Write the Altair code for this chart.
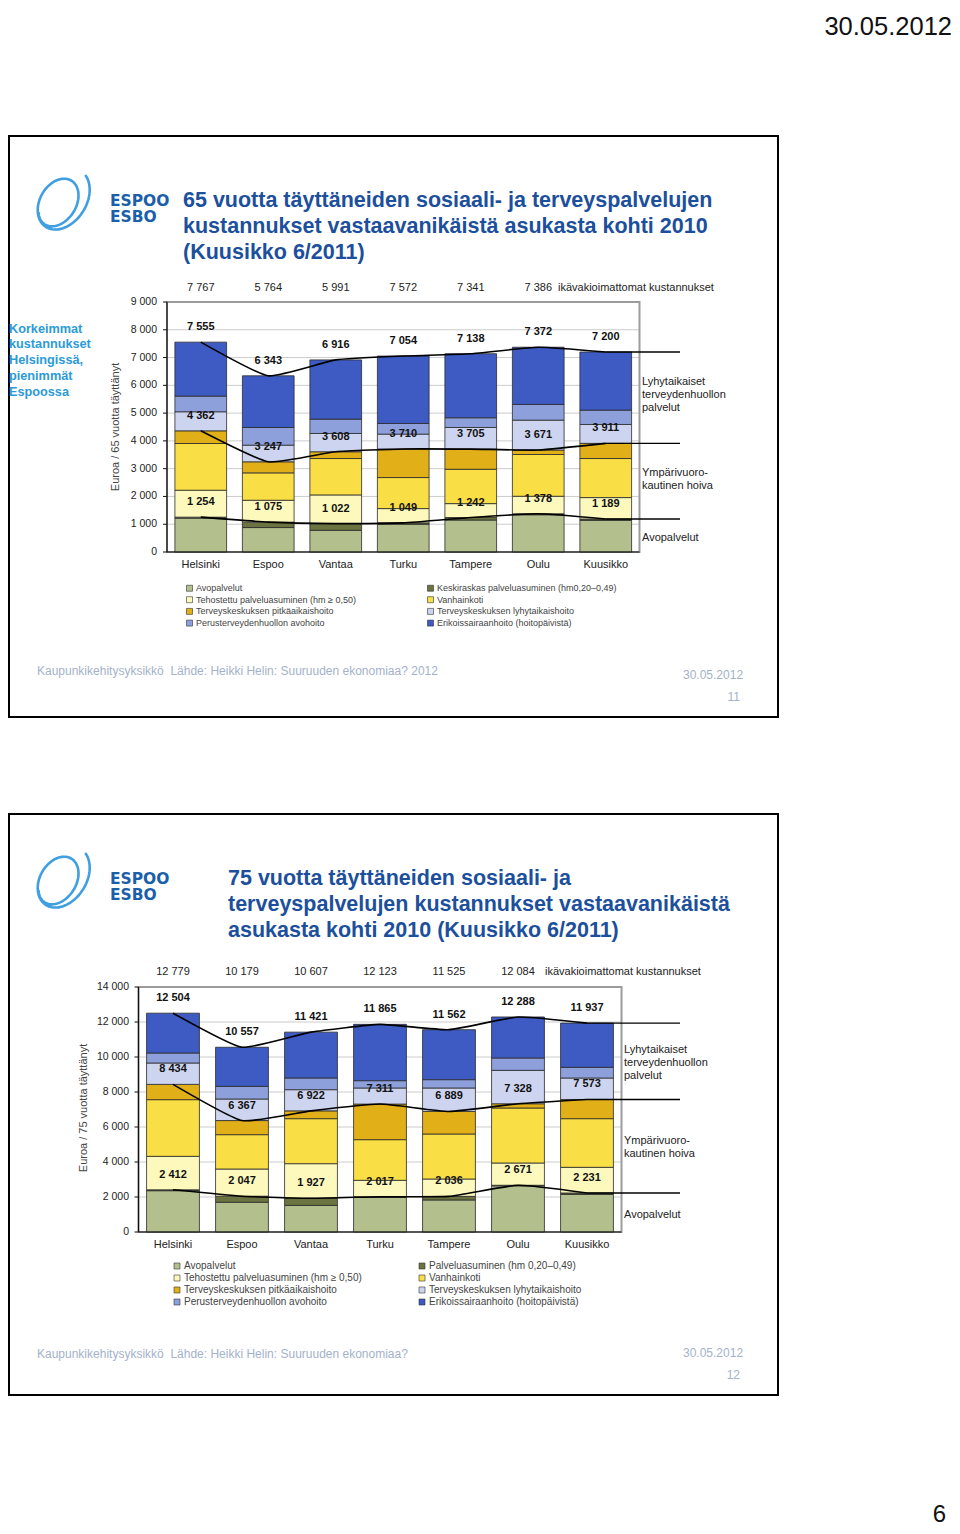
import math
import altair as alt
import pandas as pd

FONT = "Liberation Sans, Arial, Helvetica, sans-serif"
LOGO_FONT = "DejaVu Sans, Liberation Sans, sans-serif"

# ---------------- data ----------------
cities = ["Helsinki", "Espoo", "Vantaa", "Turku", "Tampere", "Oulu", "Kuusikko"]

segment_colors = ["#b3bf8c", "#6b7440", "#fdf9bd", "#f9de46",
                  "#e1af18", "#cdd4f0", "#8ea0dc", "#3d5bc2"]

legend65 = ["Avopalvelut",
            "Keskiraskas palveluasuminen (hm0,20–0,49)",
            "Tehostettu palveluasuminen (hm ≥ 0,50)",
            "Vanhainkoti",
            "Terveyskeskuksen pitkäaikaishoito",
            "Terveyskeskuksen lyhytaikaishoito",
            "Perusterveydenhuollon avohoito",
            "Erikoissairaanhoito (hoitopäivistä)"]
legend75 = ["Avopalvelut",
            "Palveluasuminen (hm 0,20–0,49)",
            "Tehostettu palveluasuminen (hm ≥ 0,50)",
            "Vanhainkoti",
            "Terveyskeskuksen pitkäaikaishoito",
            "Terveyskeskuksen lyhytaikaishoito",
            "Perusterveydenhuollon avohoito",
            "Erikoissairaanhoito (hoitopäivistä)"]
# order in which the legend lists the segments (two columns, filled column by column)
legend_order = [0, 2, 4, 6, 1, 3, 5, 7]

# 65+ (euro per resident)
avo65 = [1220, 880, 780, 1000, 1150, 1340, 1140]
kesk65 = [34, 195, 242, 49, 92, 38, 49]
teh65 = [970, 788, 1033, 514, 500, 629, 770]
vanh65 = [1682, 986, 1310, 1117, 1237, 1503, 1406]
pitk65 = [456, 398, 243, 1030, 726, 161, 546]
lyhyt65 = [686, 599, 659, 533, 778, 1077, 680]
perus65 = [565, 637, 517, 384, 349, 564, 517]
erik65 = [1942, 1860, 2132, 2427, 2306, 2060, 2092]
open65 = [1254, 1075, 1022, 1049, 1242, 1378, 1189]
care65 = [4362, 3247, 3608, 3710, 3705, 3671, 3911]
total65 = [7555, 6343, 6916, 7054, 7138, 7372, 7200]
unadj65 = [7767, 5764, 5991, 7572, 7341, 7386]
ticks65 = [0, 1000, 2000, 3000, 4000, 5000, 6000, 7000, 8000, 9000]

# 75+
avo75 = [2360, 1700, 1520, 1980, 1830, 2640, 2150]
kesk75 = [52, 347, 407, 37, 206, 31, 81]
teh75 = [1912, 1553, 1978, 935, 992, 1272, 1464]
vanh75 = [3238, 1962, 2571, 2324, 2572, 3143, 2781]
pitk75 = [872, 805, 446, 2035, 1289, 242, 1097]
lyhyt75 = [1223, 1233, 1211, 918, 1340, 1910, 1227]
perus75 = [572, 724, 667, 419, 476, 705, 610]
erik75 = [2275, 2233, 2621, 3217, 2857, 2345, 2527]
open75 = [2412, 2047, 1927, 2017, 2036, 2671, 2231]
care75 = [8434, 6367, 6922, 7311, 6889, 7328, 7573]
total75 = [12504, 10557, 11421, 11865, 11562, 12288, 11937]
unadj75 = [12779, 10179, 10607, 12123, 11525, 12084]
ticks75 = [0, 2000, 4000, 6000, 8000, 10000, 12000, 14000]

# ---------------- helpers ----------------
one = pd.DataFrame({"d": [0]})


def X(v):
    return v - 8


def Y(v):
    return v - 8


def fmt(v):
    return f"{v:,}".replace(",", " ")


def text_at(x, y, text, **kw):
    kw.setdefault("font", FONT)
    return alt.Chart(one).mark_text(**kw).encode(
        x=alt.value(X(x)), y=alt.value(Y(y)), text=alt.value(text))


def logo_path():
    # a swirling double loop, drawn as an SVG symbol in the [-1, 1] box
    ang = math.radians(-58)
    ux, uy = math.cos(ang), math.sin(ang)
    vx, vy = -math.sin(ang), math.cos(ang)
    pts = []
    n = 110
    turns = 1.6
    for i in range(n + 1):
        t = 0.2 + i / n * 2 * math.pi * turns
        f = 1.0 - 0.36 * (i / n)
        a = 1.0 * f
        b = 0.72 * f
        cx = -0.25 * (i / n)
        cy = 0.18 * (i / n)
        px = cx + a * math.cos(t) * ux + b * math.sin(t) * vx
        py = cy + a * math.cos(t) * uy + b * math.sin(t) * vy
        pts.append((px, py))
    return "M" + " L".join(f"{p[0]:.3f},{p[1]:.3f}" for p in pts)


LOGO = logo_path()


def slide_decor(top, bottom, logo_y, title_x, title_lines, footer, page_no, footer_y, date_y, pno_y):
    layers = []
    layers.append(alt.Chart(one).mark_rect(fill="white", stroke="black", strokeWidth=2).encode(
        x=alt.value(1), x2=alt.value(X(778)), y=alt.value(Y(top)), y2=alt.value(Y(bottom))))
    layers.append(alt.Chart(one).mark_point(shape=LOGO, size=4400, filled=False,
                                            stroke="#3f9fe0", strokeWidth=2.6, opacity=1).encode(
        x=alt.value(X(64)), y=alt.value(Y(logo_y))))
    layers.append(text_at(110, logo_y + 0.5, ["ESPOO", "ESBO"], font=LOGO_FONT, fontSize=15.5,
                          fontWeight="bold", color="#1b5faa", align="left", lineHeight=16))
    layers.append(text_at(title_x, logo_y + 1, title_lines, fontSize=21.5, fontWeight="bold",
                          color="#1c4f9c", align="left", lineHeight=26))
    layers.append(text_at(37, footer_y + 1, footer, fontSize=12, color="#a3b2c9", align="left"))
    layers.append(text_at(683, date_y, "30.05.2012", fontSize=12, color="#a3b2c9", align="left"))
    layers.append(text_at(740, pno_y + 1, page_no, fontSize=12, color="#a3b2c9", align="right"))
    return layers


def make_slide(segs, labels, low, mid, tot, unadj, ticks, ymax, plot, top_lab_y, xlab_y,
               unadj_x, ylab_x, ytitle, ytitle_xy, right_x, right_ys, ext_x, legend_xy,
               legend_fs, legend_rp, legend_cp):
    x0, x1, y0, y1 = plot
    xs = alt.Scale(type="band", domain=cities, range=[X(x0), X(x1)],
                   paddingInner=0.234, paddingOuter=0.117)
    ys = alt.Scale(type="linear", domain=[0, ymax], range=[Y(y0), Y(y1)], nice=False, zero=False)
    xc = alt.X("city:N", scale=xs, axis=None, bandPosition=0.5)
    layers = []

    tick_df = pd.DataFrame({"t": ticks, "lab": [fmt(t) for t in ticks]})
    grid_df = tick_df[tick_df["t"] > 0]
    layers.append(alt.Chart(grid_df).mark_rule(color="#cccccc", strokeWidth=1).encode(
        y=alt.Y("t:Q", scale=ys, axis=None), x=alt.value(X(x0)), x2=alt.value(X(x1))))
    frame_df = pd.DataFrame({"a": [0], "b": [ymax]})
    layers.append(alt.Chart(frame_df).mark_rect(fillOpacity=0, stroke="#9c9c9c", strokeWidth=2).encode(
        y=alt.Y("a:Q", scale=ys, axis=None), y2=alt.Y2("b:Q"),
        x=alt.value(X(x0)), x2=alt.value(X(x1))))

    rows = []
    for i, (lab, arr) in enumerate(zip(labels, segs)):
        for c, v in zip(cities, arr):
            rows.append({"city": c, "seg": lab, "idx": i, "value": v})
    bar_df = pd.DataFrame(rows)
    dom = [labels[i] for i in legend_order]
    rng = [segment_colors[i] for i in legend_order]
    layers.append(alt.Chart(bar_df).mark_bar(stroke="#2b2b2b", strokeWidth=0.8).encode(
        x=alt.X("city:N", scale=xs, axis=None),
        y=alt.Y("value:Q", scale=ys, axis=None, stack="zero"),
        color=alt.Color("seg:N", scale=alt.Scale(domain=dom, range=rng),
                        legend=alt.Legend(orient="none", legendX=X(legend_xy[0]),
                                          legendY=Y(legend_xy[1]), columns=2,
                                          symbolType="square", symbolSize=36,
                                          symbolStrokeColor="#333333", symbolStrokeWidth=0.6,
                                          labelFont=FONT, labelFontSize=legend_fs,
                                          labelColor="#444444", rowPadding=legend_rp,
                                          columnPadding=legend_cp, labelLimit=400,
                                          padding=0, labelOffset=2, title=None)),
        order=alt.Order("idx:Q", sort="ascending")))

    lrows = []
    for k, arr in (("low", low), ("mid", mid), ("tot", tot)):
        for ci, (c, v) in enumerate(zip(cities, arr)):
            lrows.append({"city": c, "ci": ci, "k": k, "v": v, "lab": fmt(v)})
    line_df = pd.DataFrame(lrows)
    layers.append(alt.Chart(line_df).mark_line(color="black", strokeWidth=1.6,
                                               interpolate="cardinal", tension=0.55).encode(
        x=xc, y=alt.Y("v:Q", scale=ys, axis=None), detail="k:N", order="ci:Q"))
    ext_df = line_df[line_df["city"] == cities[-1]]
    layers.append(alt.Chart(ext_df).mark_rule(color="black", strokeWidth=1.4).encode(
        x=xc, x2=alt.value(X(ext_x)), y=alt.Y("v:Q", scale=ys, axis=None)))
    layers.append(alt.Chart(line_df).mark_text(dy=-15, fontSize=11, fontWeight="bold", font=FONT,
                                               color="#111111").encode(
        x=xc, y=alt.Y("v:Q", scale=ys, axis=None), text="lab:N"))

    # axes
    layers.append(alt.Chart(frame_df).mark_rule(color="#111111", strokeWidth=1.2).encode(
        x=alt.value(X(x0)), y=alt.Y("a:Q", scale=ys, axis=None), y2=alt.Y2("b:Q")))
    layers.append(alt.Chart(frame_df).mark_rule(color="#111111", strokeWidth=1.2).encode(
        y=alt.Y("a:Q", scale=ys, axis=None), x=alt.value(X(x0)), x2=alt.value(X(x1))))
    layers.append(alt.Chart(tick_df).mark_rule(color="#111111", strokeWidth=1).encode(
        y=alt.Y("t:Q", scale=ys, axis=None), x=alt.value(X(x0 - 4)), x2=alt.value(X(x0))))
    layers.append(alt.Chart(tick_df).mark_text(align="right", baseline="middle", fontSize=10.5,
                                               font=FONT, color="#222222").encode(
        y=alt.Y("t:Q", scale=ys, axis=None), x=alt.value(X(ylab_x)), text="lab:N"))
    city_df = pd.DataFrame({"city": cities})
    layers.append(alt.Chart(city_df).mark_text(baseline="middle", fontSize=11, font=FONT,
                                               color="#222222").encode(
        x=xc, y=alt.value(Y(xlab_y)), text="city:N"))
    un_df = pd.DataFrame({"city": cities[:len(unadj)], "lab": [fmt(v) for v in unadj]})
    layers.append(alt.Chart(un_df).mark_text(baseline="middle", fontSize=11, font=FONT,
                                             color="#222222").encode(
        x=xc, y=alt.value(Y(top_lab_y)), text="lab:N"))
    layers.append(text_at(unadj_x, top_lab_y, "ikävakioimattomat kustannukset", fontSize=11,
                          baseline="middle", align="left", color="#222222"))
    layers.append(text_at(ytitle_xy[0], ytitle_xy[1], ytitle, fontSize=11, angle=270,
                          baseline="middle", align="center", color="#444444"))
    blocks = [["Lyhytaikaiset", "terveydenhuollon", "palvelut"],
              ["Ympärivuoro-", "kautinen hoiva"], ["Avopalvelut"]]
    for blk, yy in zip(blocks, right_ys):
        layers.append(text_at(right_x, yy + 1, blk, fontSize=11, align="left",
                              lineHeight=13, color="#222222"))
    return alt.layer(*layers)


slide1 = make_slide(
    [avo65, kesk65, teh65, vanh65, pitk65, lyhyt65, perus65, erik65], legend65,
    open65, care65, total65, unadj65, ticks65, 9000,
    plot=(167, 639.5, 552, 302), top_lab_y=288, xlab_y=565, unadj_x=558, ylab_x=157,
    ytitle="Euroa / 65 vuotta täyttänyt", ytitle_xy=(116, 427), right_x=642,
    right_ys=[381, 472, 537], ext_x=680, legend_xy=(185, 583.5),
    legend_fs=9, legend_rp=1.7, legend_cp=69)

slide2 = make_slide(
    [avo75, kesk75, teh75, vanh75, pitk75, lyhyt75, perus75, erik75], legend75,
    open75, care75, total75, unadj75, ticks75, 14000,
    plot=(138.5, 621.5, 1232, 987), top_lab_y=972, xlab_y=1245, unadj_x=545, ylab_x=129,
    ytitle="Euroa / 75 vuotta täyttänyt", ytitle_xy=(84, 1108), right_x=624,
    right_ys=[1049, 1140, 1214], ext_x=680, legend_xy=(172, 1261),
    legend_fs=10, legend_rp=2, legend_cp=55)

deco = []
deco += slide_decor(136, 717, 200, 183,
                    ["65 vuotta täyttäneiden sosiaali- ja terveyspalvelujen",
                     "kustannukset vastaavanikäistä asukasta kohti 2010",
                     "(Kuusikko 6/2011)"],
                    "Kaupunkikehitysyksikkö\u00a0 Lähde: Heikki Helin: Suuruuden ekonomiaa? 2012",
                    "11", 670, 675, 696)
deco.append(text_at(9, 328.5, ["Korkeimmat", "kustannukset", "Helsingissä,", "pienimmät", "Espoossa"],
                    fontSize=12.7, fontWeight="bold", color="#2b9bd8", align="left",
                    lineHeight=15.75))
deco += slide_decor(814, 1395, 878, 228,
                    ["75 vuotta täyttäneiden sosiaali- ja",
                     "terveyspalvelujen kustannukset vastaavanikäistä",
                     "asukasta kohti 2010 (Kuusikko 6/2011)"],
                    "Kaupunkikehitysyksikkö\u00a0 Lähde: Heikki Helin: Suuruuden ekonomiaa?",
                    "12", 1353, 1353, 1374)
deco.append(text_at(952, 27, "30.05.2012", fontSize=25.5, align="right", color="#111111"))
deco.append(text_at(946, 1515, "6", fontSize=24, align="right", color="#111111"))

chart = alt.layer(*deco, slide1, slide2).resolve_scale(
    x="independent", y="independent", color="independent"
).properties(
    width=944, height=1518, padding=0, background="white",
    autosize=alt.AutoSizeParams(type="none")
).configure_view(strokeWidth=0)

chart.save("out.html", embed_options={"renderer": "svg", "actions": False})
